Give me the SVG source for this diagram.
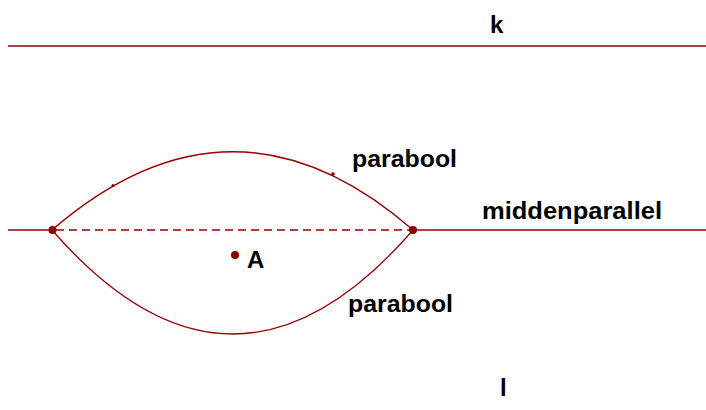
<svg xmlns="http://www.w3.org/2000/svg" width="706" height="410" viewBox="0 0 706 410">
<style>
.ln{stroke:#990000;stroke-width:1.6;fill:none}
.cv{stroke:#990000;stroke-width:1.3;fill:none}
.ds{stroke:#990000;stroke-width:1.6;fill:none;stroke-dasharray:8 5}
.pt{fill:#8b0000}
.lb{font-family:"Liberation Sans",Arial,sans-serif;font-weight:bold;font-size:24px;fill:#000}
</style>
<rect width="706" height="410" fill="#fefefe"/>
<g id="line-k">
<line class="ln" x1="8" y1="46" x2="706" y2="46"/>
<text class="lb" x="490" y="33">k</text>
</g>
<g id="connectors">
<line class="ln" x1="8" y1="230" x2="52" y2="230"/>
<line class="ds" x1="56" y1="230" x2="410" y2="230"/>
<line class="ln" x1="413" y1="230" x2="706" y2="230"/>
<path class="cv" d="M52 230 Q233 73.4 413 230"/>
<path class="cv" d="M52 230 Q233 438 413 230"/>
</g>
<g id="middenparallel">
<text class="lb" x="482" y="219" textLength="180" lengthAdjust="spacingAndGlyphs">middenparallel</text>
</g>
<g id="parabool-boven">
<text class="lb" x="352" y="167" textLength="105" lengthAdjust="spacingAndGlyphs">parabool</text>
<circle class="pt" cx="113" cy="185.5" r="1.5"/>
<circle class="pt" cx="333" cy="174" r="1.8"/>
</g>
<g id="parabool-onder">
<text class="lb" x="348" y="312" textLength="105" lengthAdjust="spacingAndGlyphs">parabool</text>
</g>
<g id="point-left"><circle class="pt" cx="52.5" cy="230" r="4"/></g>
<g id="point-right"><circle class="pt" cx="413" cy="230" r="4"/></g>
<g id="point-A">
<circle class="pt" cx="235" cy="255" r="4"/>
<text class="lb" x="247" y="268">A</text>
</g>
<g id="line-l">
<text class="lb" x="500" y="396">l</text>
</g>
</svg>
